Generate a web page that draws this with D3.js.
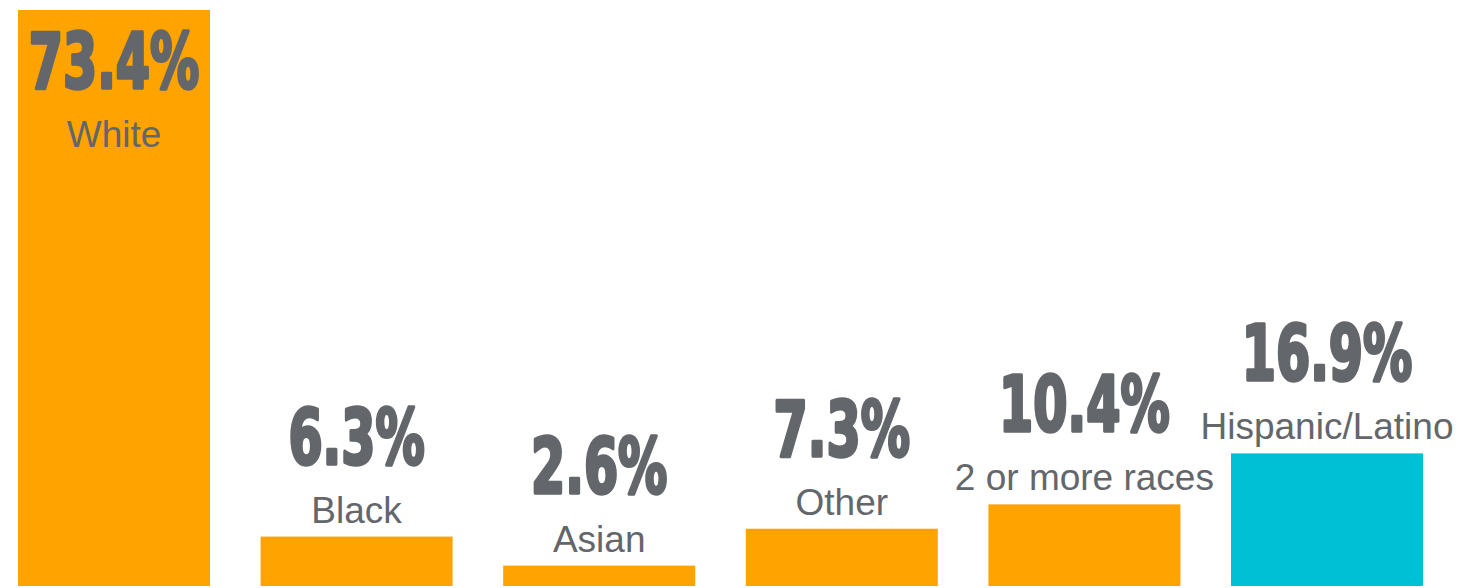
<!DOCTYPE html>
<html>
<head>
<meta charset="utf-8">
<script src="https://cdn.jsdelivr.net/npm/d3@7/dist/d3.min.js"></script>
<style>
  html, body { margin: 0; padding: 0; background: #fff; }
  svg { display: block; }
</style>
</head>
<body>
<svg id="chart" width="1457" height="588"></svg>
<script>
const categories = ["White", "Black", "Asian", "Other", "2 or more races", "Hispanic/Latino"];
const values = [73.4, 6.3, 2.6, 7.3, 10.4, 16.9];
const valueLabels = ["73.4%", "6.3%", "2.6%", "7.3%", "10.4%", "16.9%"];
const highlight = [false, false, false, false, false, true];

const svg = d3.select("#chart");
const baseline = 586;
const x = d3.scaleBand().domain(categories).range([18, 1423]).paddingInner(0.2086).paddingOuter(0);
const y = d3.scaleLinear().domain([0, 73.4]).range([baseline, 10]);

const data = categories.map((c, i) => ({ c, v: values[i], lab: valueLabels[i], hi: highlight[i], i }));

svg.selectAll("rect.bar").data(data).join("rect")
  .attr("class", "bar")
  .attr("x", d => x(d.c))
  .attr("width", x.bandwidth())
  .attr("y", d => y(d.v))
  .attr("height", d => baseline - y(d.v))
  .attr("fill", d => d.hi ? "#00C0D6" : "#FFA300");

const pctFont = "'DejaVu Sans Condensed', 'DejaVu Sans', sans-serif";
const catFont = "'Liberation Sans', Arial, sans-serif";

// label positions: inside tall first bar, above the others
function catBase(d) { return d.i === 0 ? y(d.v) + 137 : y(d.v) - 14; }
function pctBase(d) { return d.i === 0 ? y(d.v) + 78 : catBase(d) - 59; }

const g = svg.selectAll("g.lab").data(data).join("g").attr("class", "lab");

g.append("text")
  .attr("transform", d => `translate(${x(d.c) + x.bandwidth() / 2},${pctBase(d)}) scale(0.71,1)`)
  .attr("text-anchor", "middle")
  .attr("font-family", pctFont)
  .attr("font-weight", "bold")
  .attr("font-stretch", "condensed")
  .attr("font-size", 77)
  .attr("fill", "#63666A")
  .attr("stroke", "#63666A")
  .attr("stroke-width", 3.5)
  .attr("stroke-linejoin", "round")
  .text(d => d.lab);

g.append("text")
  .attr("x", d => x(d.c) + x.bandwidth() / 2)
  .attr("y", d => catBase(d))
  .attr("text-anchor", "middle")
  .attr("font-family", catFont)
  .attr("font-size", 37)
  .attr("fill", "#63666A")
  .text(d => d.c);
</script>
</body>
</html>
